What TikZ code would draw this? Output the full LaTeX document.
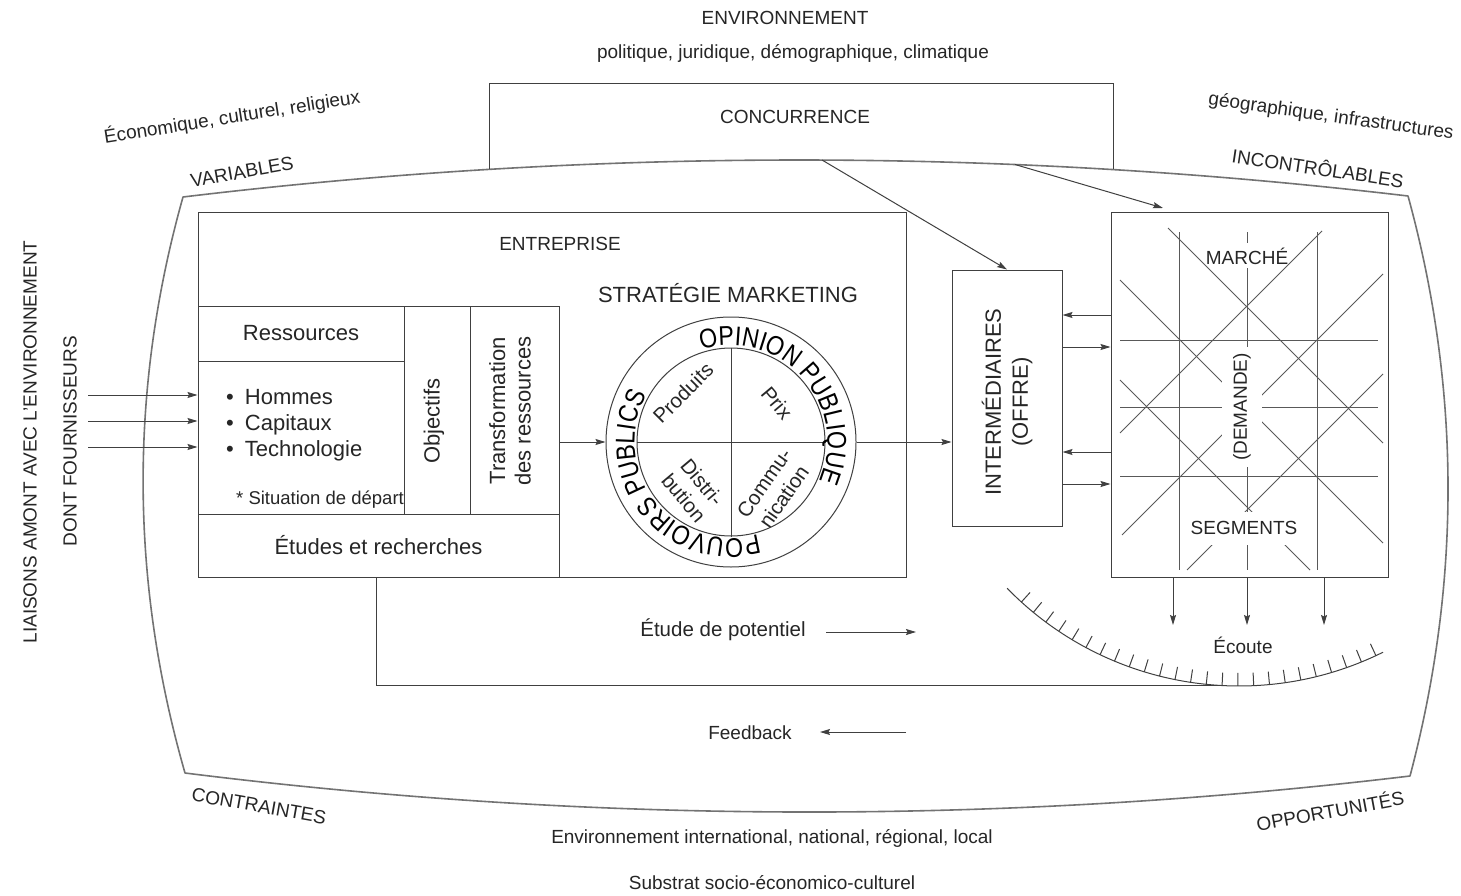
\documentclass[tikz,border=0pt]{standalone}
\usepackage{fontspec}
\setmainfont{Liberation Sans}
\newfontfamily\ringfam[FakeStretch=0.86]{Liberation Sans}
\usetikzlibrary{arrows.meta,decorations.text}
\newcommand{\ringfont}{\ringfam\fontsize{27}{27}\selectfont}
\begin{document}
\begin{tikzpicture}[x=1pt,y=-1pt,
  lin/.style={draw=black!75,line width=1pt},
  gridl/.style={draw=black!65,line width=0.9pt},
  outer/.style={draw=black!55,line width=1.6pt,line join=round},
  arr/.style={lin,-{Stealth[length=10pt,width=6pt,inset=1.5pt]}},
  box/.style={lin,rectangle,inner sep=0pt},
  t19/.style={font=\fontsize{19}{22}\selectfont,text=black!85,inner sep=0pt},
  t20/.style={font=\fontsize{20.5}{24}\selectfont,text=black!85,inner sep=0pt},
  t22/.style={font=\fontsize{22}{25.5}\selectfont,text=black!85,inner sep=0pt},
]
\path[use as bounding box,fill=white] (0,0) rectangle (1461,896);

% ---------- environment texts ----------
\node[t19] (env) at (785,18) {ENVIRONNEMENT};
\node[t19] (pol) at (793,53) {politique, juridique, démographique, climatique};
\node[t19,rotate=9] (eco) at (232,117) {Économique, culturel, religieux};
\node[t19,rotate=-8] (geo) at (1331,117) {géographique, infrastructures};
\node[t19,rotate=10] (var) at (242,172) {VARIABLES};
\node[t19,rotate=-8.5] (inc) at (1318,167) {INCONTRÔLABLES};
\node[t19,rotate=-10] (contr) at (259,806) {CONTRAINTES};
\node[t19,rotate=10.5] (opp) at (1330,810) {OPPORTUNITÉS};
\node[t19] (envint) at (772,838) {Environnement international, national, régional, local};
\node[t19] (subst) at (772,883) {Substrat socio-économico-culturel};
\node[t19,rotate=90] (liais) at (30,442) {LIAISONS AMONT AVEC L'ENVIRONNEMENT};
\node[t19,rotate=90] (dont) at (70,441) {DONT FOURNISSEURS};

% ---------- outer shape ----------
\draw[outer] (183,197) .. controls (591,148) and (999,147.7) .. (1408,196)
  .. controls (1461,389) and (1461,583) .. (1410,776)
  .. controls (1001,825) and (593,824) .. (185,773)
  .. controls (130,581) and (129,389) .. (183,197) -- cycle;

% ---------- concurrence ----------
\draw[lin] (489,169.4) -- (489,84) -- (1113,84) -- (1113,169.5);
\node[t19] (conc) at (795,117) {CONCURRENCE};
\coordinate (c1) at (822,160);
\coordinate (c2) at (1015,164.5);

% ---------- entreprise ----------
\node[box,minimum width=708pt,minimum height=364pt] (ent) at (552,395) {};
\node[t19] (entl) at (560,244) {ENTREPRISE};
\node[box,t22,minimum width=206pt,minimum height=55pt] (res) at (301,333.5) {Ressources};
\node[box,minimum width=206pt,minimum height=153pt] (hom) at (301,437.5) {};
\node[box,minimum width=66pt,minimum height=208pt] (obj) at (437,410) {};
\node[box,minimum width=89pt,minimum height=208pt] (tra) at (514.5,410) {};
\node[box,t22,minimum width=361pt,minimum height=63pt] (etu) at (378.5,545.5) {Études et recherches};
\node[t22,anchor=base west] (hom1) at (226,404) {•\hspace{11pt}Hommes};
\node[t22,anchor=base west] (hom2) at (226,430) {•\hspace{11pt}Capitaux};
\node[t22,anchor=base west] (hom3) at (226,456) {•\hspace{11pt}Technologie};
\node[t19,font=\fontsize{18.5}{22}\selectfont,anchor=base west] (sit) at (236,504) {* Situation de départ};
\node[t22,rotate=90] (objl) at (434,421) {Objectifs};
\node[t22,rotate=90,align=center] (tral) at (510,411) {Transformation\\des ressources};
\node[t22] (strat) at (728,293) {STRATÉGIE MARKETING};

% ---------- marketing mix circle ----------
\node[lin,circle,minimum size=250pt,inner sep=0pt] (circ) at (731,442) {};
\node[lin,circle,minimum size=188pt,inner sep=0pt] (circin) at (731,442) {};
\draw[lin] (circin.north) -- (circin.south);
\draw[lin] (circin.west) -- (circin.east);
\path[decorate,decoration={text along path,text align=center,
  text={|\ringfont|OPINION PUBLIQUE}}]
  (circ.center) ++(-132:96.5) arc[start angle=-132,end angle=48,radius=96.5];
\path[decorate,decoration={text along path,text align=center,
  text={|\ringfont|POUVOIRS PUBLICS}}]
  (circ.center) ++(51.5:96.5) arc[start angle=51.5,end angle=231.5,radius=96.5];
\node[t20,rotate=45] (prod) at (683,393) {Produits};
\node[t20,rotate=-50] (prix) at (777,403) {Prix};
\node[t20,rotate=-50,align=center] (dist) at (693,490) {Distri-\\bution};
\node[t20,rotate=55,align=center] (comm) at (774,490) {Commu-\\nication};

% ---------- intermediaires ----------
\node[box,minimum width=110pt,minimum height=256pt] (inter) at (1007,398) {};
\node[t22,rotate=90,align=center,font=\fontsize{22}{27}\selectfont] (interl) at (1007,402) {INTERMÉDIAIRES\\(OFFRE)};

% ---------- marche ----------
\node[box,minimum width=277pt,minimum height=364pt] (mkt) at (1249.5,395) {};
\draw[gridl] (1179,232) -- (1179,570);
\draw[gridl] (1317,232) -- (1317,570);
\draw[gridl] (1247,232) -- (1247,243);
\draw[gridl] (1247,268) -- (1247,570);
\draw[gridl] (1120,340) -- (1378,340);
\draw[gridl] (1120,407) -- (1378,407);
\draw[gridl] (1120,476) -- (1378,476);
\draw[gridl] (1168,228) -- (1383,443);
\draw[gridl] (1322,231) -- (1120,433);
\draw[gridl] (1120,380) -- (1310,570);
\draw[gridl] (1383,374) -- (1187,570);
\draw[gridl] (1120,280) -- (1383,543);
\draw[gridl] (1383,274) -- (1122,535);
\node[t19] (mar) at (1247,256) {MARCHÉ};
\node[t19,rotate=90,fill=white,minimum width=120pt,minimum height=40pt] (dem) at (1242,407) {(DEMANDE)};
\node[t19,fill=white,minimum width=118pt,minimum height=33pt] (seg) at (1244,528) {SEGMENTS};

% ---------- ecoute arc ----------
\coordinate (ecc) at (1239,362);
\draw[lin] (ecc) ++(135.7:324) arc[start angle=135.7,end angle=63.6,radius=324];
\foreach \a in {65,67.8,...,135} {
  \draw[lin] (ecc) ++(\a:324) -- ++(\a:-13);
}
\node[t19] (ecl) at (1243,645) {Écoute};

% ---------- connectors ----------
\coordinate (s1) at (88,395);
\coordinate (s2) at (88,421);
\coordinate (s3) at (88,447);
\draw[arr] (s1) -- (s1 -| ent.west);
\draw[arr] (s2) -- (s2 -| ent.west);
\draw[arr] (s3) -- (s3 -| ent.west);
\draw[arr] (tra.east |- circ.center) -- (circ.west);
\draw[arr] (circ.east) -- (circ.east -| inter.west);
\coordinate (m1) at (1163,208);
\draw[arr] (c1) -- (inter.north);
\draw[arr] (c2) -- (m1);
\coordinate (y1) at (0,315);
\coordinate (y2) at (0,347);
\coordinate (y3) at (0,452);
\coordinate (y4) at (0,484);
\draw[arr] (mkt.west |- y1) -- (inter.east |- y1);
\draw[arr] (inter.east |- y2) -- (mkt.west |- y2);
\draw[arr] (mkt.west |- y3) -- (inter.east |- y3);
\draw[arr] (inter.east |- y4) -- (mkt.west |- y4);
\coordinate (e1) at (1173,625);
\coordinate (e2) at (1247,625);
\coordinate (e3) at (1324,625);
\draw[arr] (e1 |- mkt.south) -- (e1);
\draw[arr] (e2 |- mkt.south) -- (e2);
\draw[arr] (e3 |- mkt.south) -- (e3);
\coordinate (fb) at (376,685);
\coordinate (arcb) at (1225,685);
\draw[lin] (fb |- ent.south) -- (fb) -- (arcb);

\node[t20] (pot) at (723,630) {Étude de potentiel};
\coordinate (p1) at (826,632);
\coordinate (p2) at (916,632);
\draw[arr] (p1) -- (p2);
\node[t19] (feed) at (750,733) {Feedback};
\coordinate (f1) at (906,732);
\coordinate (f2) at (820,732);
\draw[arr] (f1) -- (f2);
\end{tikzpicture}
\end{document}
